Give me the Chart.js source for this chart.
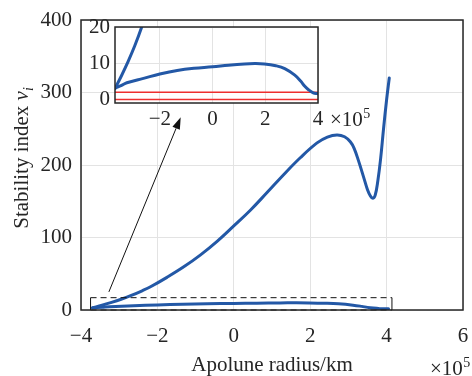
<!DOCTYPE html>
<html>
<head>
<meta charset="utf-8">
<script src="https://cdn.jsdelivr.net/npm/chart.js@4.4.0/dist/chart.umd.min.js"></script>
<style>
  html, body { margin: 0; padding: 0; background: #fff; }
  #wrap { position: relative; width: 472px; height: 376px; overflow: hidden; }
  #main { position: absolute; left: 0; top: 0; }
  #inset { position: absolute; left: 80px; top: 10px; }
</style>
</head>
<body>
<div id="wrap">
  <canvas id="main" width="472" height="376"></canvas>
  <canvas id="inset" width="300" height="125"></canvas>
</div>
<script>
// apolune radius in 1e5 km, stability index
const upperX = [-3.70, -3.45, -3.20, -2.95, -2.70, -2.40, -2.18, -1.75, -1.31, -0.87, -0.43, 0.00, 0.44, 0.87,
  1.31, 1.74, 2.18, 2.45, 2.70, 2.90, 3.05, 3.15, 3.27, 3.40, 3.50, 3.58, 3.64, 3.70, 3.77, 3.84, 3.92, 4.00, 4.07];
const upperY = [3.0, 6.6, 10.5, 14.8, 19.7, 26.5, 32, 45, 59.5, 76, 95, 116, 138, 162,
  187, 210, 230.5, 238.5, 241.5, 239, 232, 223, 205, 183, 166, 157, 154, 158, 178, 207, 250, 290, 320];
const lowerX = [-3.70, -3.45, -3.25, -2.62, -2.00, -1.34, -0.70, 0.00, 0.60, 1.21, 1.60, 1.97, 2.40, 2.74,
  3.12, 3.35, 3.50, 3.65, 3.82, 3.95, 4.05];
const lowerY = [3.1, 3.9, 4.6, 5.8, 7.0, 8.0, 8.6, 9.0, 9.45, 9.8, 9.9, 9.8, 9.3, 8.5,
  6.7, 5.0, 3.6, 2.6, 1.8, 1.6, 1.6];
const redLevels = [0, 2];

const mainXTicks = [-4, -2, 0, 2, 4, 6];
const mainYTicks = [0, 100, 200, 300, 400];
const insetXTicks = [-2, 0, 2, 4];
const insetYTicks = [0, 10, 20];

// zoom window [x0, x1, y0, y1] and arrow ends, in data units
const zoomBox = [-3.75, 4.14, 0, 17];
const arrowFrom = [-3.27, 25];
const arrowTo = [-1.39, 266];

const BLUE = '#2358a6';
const RED = '#ee3030';
const GRID = '#e3e3e3';
const AXIS = '#262626';
const FONT = '"Liberation Serif", "Times New Roman", serif';

Chart.defaults.font.family = FONT;
Chart.defaults.font.size = 21;
Chart.defaults.color = AXIS;

function pts(xs, ys) {
  return xs.map((x, i) => ({x: x, y: ys[i]}));
}

function minusLabel(v) {
  return v < 0 ? '\u2212' + Math.abs(v) : String(v);
}

function curve(xs, ys) {
  return {
    data: pts(xs, ys),
    borderColor: BLUE,
    borderWidth: 3,
    pointRadius: 0,
    showLine: true,
    fill: false,
    tension: 0.4,
    borderJoinStyle: 'round',
    borderCapStyle: 'round'
  };
}

function fixedTicks(list) {
  return function(scale) {
    scale.ticks = list.map(v => ({value: v}));
  };
}

// fixed axis sizes, no extra padding for the edge labels
function fitX(h) {
  return function(scale) {
    scale.height = h;
    scale.paddingLeft = 0;
    scale.paddingRight = 0;
  };
}
function fitY(w) {
  return function(scale) {
    scale.width = w;
    scale.paddingTop = 0;
    scale.paddingBottom = 0;
  };
}

function drawExp(ctx, x, y) {
  ctx.font = '21px ' + FONT;
  ctx.textAlign = 'left';
  ctx.textBaseline = 'alphabetic';
  ctx.fillStyle = AXIS;
  ctx.fillText('\u00d710', x, y);
  const w = ctx.measureText('\u00d710').width;
  ctx.font = '14px ' + FONT;
  ctx.fillText('5', x + w + 0.5, y - 8);
}

const boxPlugin = {
  id: 'box',
  afterDraw(chart) {
    const a = chart.chartArea, ctx = chart.ctx;
    ctx.save();
    ctx.strokeStyle = AXIS;
    ctx.lineWidth = 1.5;
    ctx.strokeRect(a.left, a.top, a.right - a.left, a.bottom - a.top);
    ctx.restore();
  }
};

const mainDecor = {
  id: 'mainDecor',
  afterDatasetsDraw(chart) {
    const ctx = chart.ctx, xs = chart.scales.x, ys = chart.scales.y;
    ctx.save();
    // zoom window
    const bx0 = xs.getPixelForValue(zoomBox[0]), bx1 = xs.getPixelForValue(zoomBox[1]);
    const by0 = ys.getPixelForValue(zoomBox[2]), by1 = ys.getPixelForValue(zoomBox[3]);
    ctx.strokeStyle = '#111';
    ctx.lineWidth = 1;
    ctx.setLineDash([6, 4]);
    ctx.beginPath();
    ctx.moveTo(bx0, by1); ctx.lineTo(bx1, by1);
    ctx.moveTo(bx0, by0); ctx.lineTo(bx1, by0);
    ctx.stroke();
    ctx.setLineDash([]);
    ctx.beginPath();
    ctx.moveTo(bx0, by1); ctx.lineTo(bx0, by0);
    ctx.moveTo(bx1, by1); ctx.lineTo(bx1, by0);
    ctx.stroke();

    // arrow
    const x0 = xs.getPixelForValue(arrowFrom[0]), y0 = ys.getPixelForValue(arrowFrom[1]);
    const x1 = xs.getPixelForValue(arrowTo[0]), y1 = ys.getPixelForValue(arrowTo[1]);
    const ang = Math.atan2(y1 - y0, x1 - x0);
    const L = 12, W = 4;
    const hx = x1 - L * Math.cos(ang), hy = y1 - L * Math.sin(ang);
    ctx.beginPath();
    ctx.moveTo(x0, y0); ctx.lineTo(hx, hy);
    ctx.stroke();
    ctx.fillStyle = '#111';
    ctx.beginPath();
    ctx.moveTo(x1, y1);
    ctx.lineTo(hx + W * Math.sin(ang), hy - W * Math.cos(ang));
    ctx.lineTo(hx - W * Math.sin(ang), hy + W * Math.cos(ang));
    ctx.closePath();
    ctx.fill();
    ctx.restore();
  },
  afterDraw(chart) {
    const ctx = chart.ctx, a = chart.chartArea;
    ctx.save();
    ctx.fillStyle = AXIS;
    // x title
    ctx.font = '21px ' + FONT;
    ctx.textAlign = 'center';
    ctx.textBaseline = 'alphabetic';
    ctx.fillText('Apolune radius/km', (a.left + a.right) / 2, 371);
    drawExp(ctx, 430, 375);

    // y title with italic nu and subscript i
    ctx.translate(28, 158);
    ctx.rotate(-Math.PI / 2);
    const f1 = '21px ' + FONT, f2 = 'italic 21px ' + FONT, f3 = 'italic 14px ' + FONT;
    ctx.font = f1; const w1 = ctx.measureText('Stability index ').width;
    ctx.font = f2; const w2 = ctx.measureText('\u03bd').width;
    ctx.font = f3; const w3 = ctx.measureText('i').width;
    let x = -(w1 + w2 + w3) / 2;
    ctx.textAlign = 'left';
    ctx.font = f1; ctx.fillText('Stability index ', x, 0); x += w1;
    ctx.font = f2; ctx.fillText('\u03bd', x, 0); x += w2;
    ctx.font = f3; ctx.fillText('i', x, 5);
    ctx.restore();
  }
};

new Chart(document.getElementById('main'), {
  type: 'scatter',
  data: {
    datasets: [curve(upperX, upperY), curve(lowerX, lowerY)]
  },
  options: {
    responsive: false,
    devicePixelRatio: 1,
    animation: false,
    layout: {padding: {left: 0, top: 20, right: 9, bottom: 0}},
    plugins: {legend: {display: false}, tooltip: {enabled: false}},
    scales: {
      x: {
        type: 'linear', min: -4, max: 6,
        afterBuildTicks: fixedTicks(mainXTicks),
        afterFit: fitX(66),
        grid: {color: GRID, lineWidth: 1, drawTicks: false},
        border: {display: false},
        ticks: {padding: 14, autoSkip: false, maxRotation: 0, callback: minusLabel}
      },
      y: {
        type: 'linear', min: 0, max: 400,
        afterBuildTicks: fixedTicks(mainYTicks),
        afterFit: fitY(81),
        grid: {color: GRID, lineWidth: 1, drawTicks: false},
        border: {display: false},
        ticks: {padding: 9, autoSkip: false, callback: minusLabel}
      }
    }
  },
  plugins: [boxPlugin, mainDecor]
});

const insetDecor = {
  id: 'insetDecor',
  beforeDraw(chart) {
    const a = chart.chartArea, ctx = chart.ctx;
    ctx.save();
    ctx.fillStyle = '#fff';
    ctx.fillRect(a.left, a.top, a.right - a.left, a.bottom - a.top);
    ctx.restore();
  },
  afterDraw(chart) {
    const ctx = chart.ctx;
    ctx.save();
    drawExp(ctx, 250, 116);
    ctx.restore();
  }
};

const redSets = redLevels.map(v => ({
  data: [{x: -3.7, y: v}, {x: 4, y: v}],
  borderColor: RED,
  borderWidth: 1.5,
  pointRadius: 0,
  showLine: true,
  fill: false
}));

new Chart(document.getElementById('inset'), {
  type: 'scatter',
  data: {
    datasets: [curve(upperX, upperY), curve(lowerX, lowerY)].concat(redSets)
  },
  options: {
    responsive: false,
    devicePixelRatio: 1,
    animation: false,
    layout: {padding: {left: 0, top: 17, right: 62, bottom: 0}},
    plugins: {legend: {display: false}, tooltip: {enabled: false}},
    scales: {
      x: {
        type: 'linear', min: -3.7, max: 4,
        afterBuildTicks: fixedTicks(insetXTicks),
        afterFit: fitX(32),
        grid: {color: GRID, lineWidth: 1, drawTicks: false},
        border: {display: false},
        ticks: {padding: 4, autoSkip: false, maxRotation: 0, callback: minusLabel}
      },
      y: {
        type: 'linear', min: -1, max: 20,
        afterBuildTicks: fixedTicks(insetYTicks),
        afterFit: fitY(35),
        grid: {color: GRID, lineWidth: 1, drawTicks: false},
        border: {display: false},
        ticks: {padding: 5, autoSkip: false, callback: minusLabel}
      }
    }
  },
  plugins: [boxPlugin, insetDecor]
});
</script>
</body>
</html>
